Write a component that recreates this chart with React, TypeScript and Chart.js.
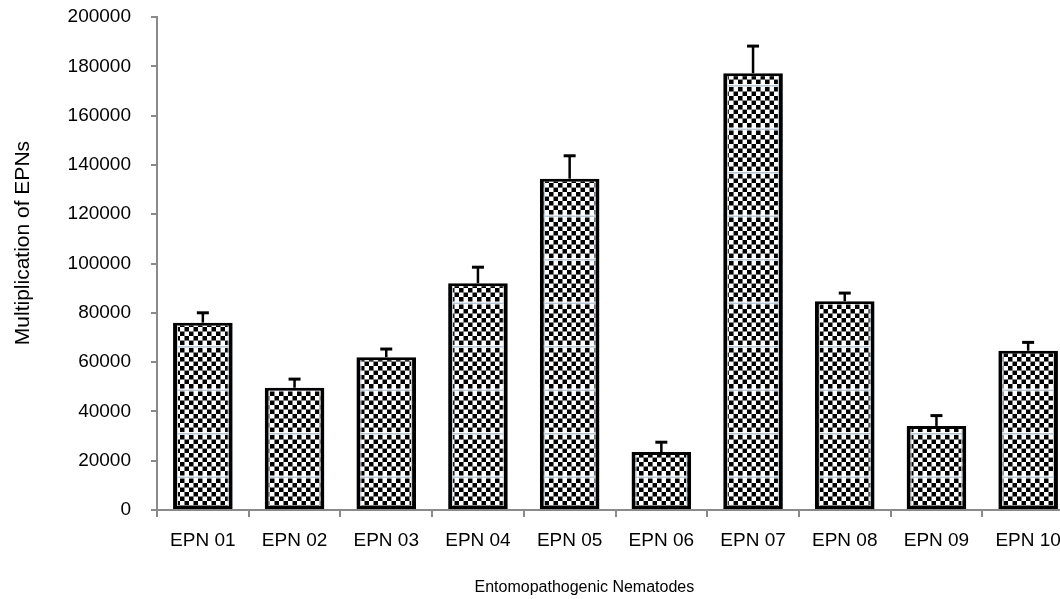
import React, { useEffect, useRef } from "react";
import { Chart, registerables } from "chart.js";

Chart.register(...registerables);

const categories = [
  "EPN 01", "EPN 02", "EPN 03", "EPN 04", "EPN 05",
  "EPN 06", "EPN 07", "EPN 08", "EPN 09", "EPN 10",
];
const meanValues = [76000, 49600, 62000, 92000, 134400, 23500, 177200, 84700, 34100, 64600];
const errorValues = [4000, 3500, 3300, 6500, 9300, 4000, 11000, 3300, 4200, 3400];
const yMin = 0;
const yMax = 200000;
const yStep = 20000;
const xTitle = "Entomopathogenic Nematodes";
const yTitle = "Multiplication of EPNs";

function makePattern(): CanvasPattern | string {
  // drawn at 2x, scaled down by 0.5 -> 4.5px checker squares, band every 43.5px
  const c = document.createElement("canvas");
  const sq = 9;
  const rows = 9;
  const band = 6;
  c.width = sq * 2;
  c.height = sq * rows + band;
  const g = c.getContext("2d");
  if (!g) return "#555";
  g.fillStyle = "#ffffff";
  g.fillRect(0, 0, c.width, c.height);
  g.fillStyle = "#000000";
  for (let r = 0; r < rows; r++) {
    for (let col = 0; col < 2; col++) {
      if ((r + col) % 2 === 0) g.fillRect(col * sq, r * sq, sq, sq);
    }
  }
  g.fillStyle = "#b9c7d5";
  g.fillRect(0, sq * rows + 2, c.width, 3);
  const p = g.createPattern(c, "repeat");
  if (!p) return "#555";
  if (typeof DOMMatrix !== "undefined" && (p as any).setTransform) {
    p.setTransform(new DOMMatrix().scale(0.5, 0.5));
  }
  return p;
}

const errorBarPlugin = {
  id: "errorBars",
  afterDatasetsDraw(chart: any) {
    const meta = chart.getDatasetMeta(0);
    const yScale = chart.scales.y;
    const ctx = chart.ctx;
    ctx.save();
    meta.data.forEach((bar: any, i: number) => {
      const x = bar.x;
      const half = bar.width / 2;
      ctx.strokeStyle = "#c9d1d9";
      ctx.lineWidth = 1;
      ctx.beginPath();
      ctx.moveTo(x - half + 4.5, bar.y + 3);
      ctx.lineTo(x - half + 4.5, bar.base - 3);
      ctx.moveTo(x + half - 4.5, bar.y + 3);
      ctx.lineTo(x + half - 4.5, bar.base - 3);
      ctx.stroke();

      const base = yScale.getPixelForValue(meanValues[i]);
      const top = yScale.getPixelForValue(meanValues[i] + errorValues[i]);
      ctx.strokeStyle = "#000";
      ctx.lineWidth = 2.5;
      ctx.beginPath();
      ctx.moveTo(x, base);
      ctx.lineTo(x, top);
      ctx.stroke();
      ctx.lineWidth = 3;
      ctx.beginPath();
      ctx.moveTo(x - 6, top);
      ctx.lineTo(x + 6, top);
      ctx.stroke();
    });
    ctx.restore();
  },
};

export default function App() {
  const ref = useRef<HTMLCanvasElement | null>(null);

  useEffect(() => {
    if (!ref.current) return;
    const family = "'Liberation Sans', Arial, sans-serif";
    const axisGray = "#8a8a8a";
    // the source centres its axis titles a little off the plot centre
    const xTitleText = xTitle + " ".repeat(14);
    const yTitleText = " ".repeat(7) + yTitle;

    const chart = new Chart(ref.current, {
      type: "bar",
      data: {
        labels: categories,
        datasets: [
          {
            data: meanValues,
            backgroundColor: makePattern() as any,
            borderColor: "#000000",
            borderWidth: { left: 4, right: 4, top: 3, bottom: 3 },
            borderSkipped: false,
            barPercentage: 0.65,
            categoryPercentage: 1,
          },
        ],
      },
      options: {
        animation: false,
        responsive: false,
        maintainAspectRatio: false,
        layout: { padding: { left: 0, right: 6, top: 17, bottom: 0 } },
        plugins: {
          legend: { display: false },
          tooltip: { enabled: false },
        },
        scales: {
          x: {
            offset: true,
            grid: {
              display: true,
              offset: true,
              drawOnChartArea: false,
              drawTicks: true,
              tickLength: 7,
              color: axisGray,
              lineWidth: 2,
            },
            border: { display: true, color: axisGray, width: 2 },
            ticks: {
              color: "#000",
              font: { family, size: 19 },
              padding: 12,
              maxRotation: 0,
              autoSkip: false,
            },
            title: {
              display: true,
              text: xTitleText,
              color: "#000",
              font: { family, size: 16 },
              padding: { top: 0, bottom: 2 },
            },
            afterFit: (s: any) => {
              s.height = 89;
              s.paddingLeft = 0;
              s.paddingRight = 0;
            },
          },
          y: {
            min: yMin,
            max: yMax,
            ticks: {
              stepSize: yStep,
              color: "#000",
              font: { family, size: 19 },
              padding: 20,
              callback: (v: any) => String(v),
            },
            grid: {
              drawOnChartArea: false,
              drawTicks: true,
              tickLength: 6,
              color: axisGray,
              lineWidth: 2,
            },
            border: { display: true, color: axisGray, width: 2 },
            title: {
              display: true,
              text: yTitleText,
              color: "#000",
              font: { family, size: 21 },
              padding: { top: 11, bottom: 0 },
            },
            afterFit: (s: any) => {
              s.width = 157;
              s.paddingTop = 0;
              s.paddingBottom = 0;
            },
          },
        },
      } as any,
      plugins: [errorBarPlugin],
    });
    return () => chart.destroy();
  }, []);

  return (
    <div
      style={{
        position: "fixed",
        left: 0,
        top: 0,
        width: 1060,
        height: 599,
        overflow: "hidden",
        background: "#ffffff",
      }}
    >
      <canvas ref={ref} width={1080} height={599} style={{ display: "block", width: 1080, height: 599 }} />
    </div>
  );
}
